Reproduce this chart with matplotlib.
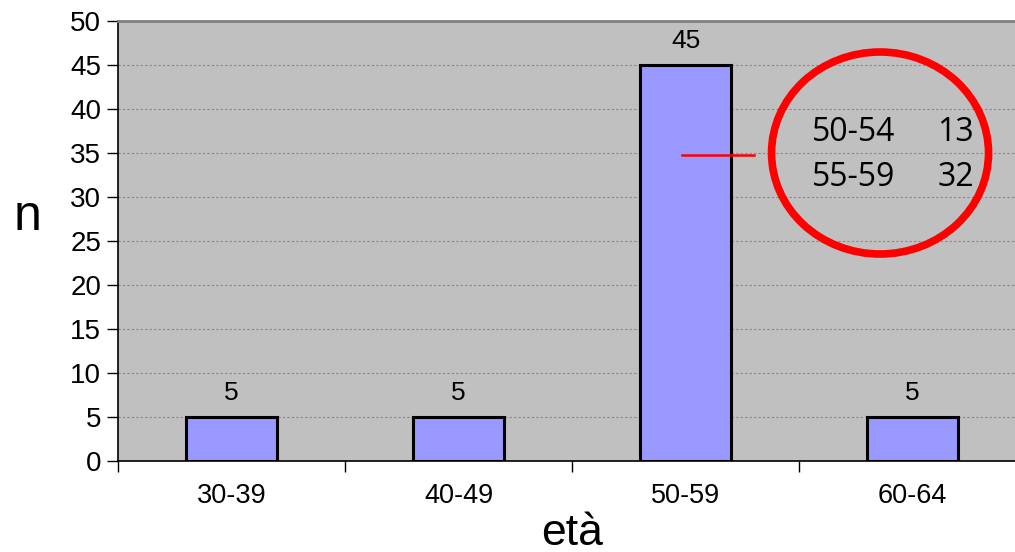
import matplotlib.pyplot as plt
from matplotlib.patches import Ellipse
import numpy as np

# dati
fasce = ["30-39", "40-49", "50-59", "60-64"]
n_pazienti = [5, 5, 45, 5]
dettaglio_label = ["50-54", "55-59"]
dettaglio_n = [13, 32]

plt.rcParams['font.family'] = ['Liberation Sans', 'DejaVu Sans']

fig = plt.figure(figsize=(10.15, 5.52), dpi=100)
ax = fig.add_axes([118 / 1015, 1 - 461 / 552, 908 / 1015, 440 / 552])
ax.set_facecolor("#c0c0c0")

x = np.arange(len(fasce))
ax.bar(x, n_pazienti, width=0.4, color="#9999ff", edgecolor="black", linewidth=2.2, zorder=3)

# etichette sopra le barre
for i, v in enumerate(n_pazienti):
    ax.text(i, v + 1.4, str(v), ha='center', va='bottom', fontsize=19)

ax.set_xlim(-0.5, len(fasce) - 0.5)
ax.set_ylim(0, 50)
ax.set_yticks(range(0, 51, 5))
ax.tick_params(axis='y', labelsize=20, length=8, width=1, direction='out', pad=4)

# tick delle categorie tra le barre
ax.set_xticks(np.arange(-0.5, len(fasce) + 0.5, 1))
ax.set_xticklabels([])
ax.set_xticks(x, minor=True)
ax.set_xticklabels(fasce, minor=True, fontsize=19.5)
ax.tick_params(axis='x', which='major', length=8, width=1, direction='out')
ax.tick_params(axis='x', which='minor', length=0, pad=16)

ax.yaxis.grid(True, color="#888888", linestyle=(0, (2, 2)), linewidth=0.8, zorder=0)
ax.set_axisbelow(True)

for s in ['left', 'bottom']:
    ax.spines[s].set_color("black")
    ax.spines[s].set_linewidth(1.2)
ax.spines['top'].set_color("#808080")
ax.spines['top'].set_linewidth(2)
ax.spines['right'].set_visible(False)

ax.set_ylabel("n", fontsize=36, rotation=0, va='center', ha='center')
ax.yaxis.set_label_coords(-0.1, 0.555)
ax.set_xlabel("età", fontsize=32)
ax.xaxis.set_label_coords(0.5, -0.118)

# linea rossa e cerchio con il dettaglio
ax.plot([1.985, 2.30], [34.8, 34.8], color="red", linewidth=1.8, zorder=4)
ell = Ellipse((2.857, 35.0), width=217 / 227, height=202 / 8.8,
              fill=False, edgecolor="red", linewidth=5.5, zorder=5)
ax.add_patch(ell)

for k, (lab, val) in enumerate(zip(dettaglio_label, dettaglio_n)):
    yy = 37.3 - k * 5.1
    ax.text(2.74, yy, lab, fontsize=23, family=['Open Sans', 'DejaVu Sans'], ha='center', va='center', zorder=6)
    ax.text(3.19, yy, str(val), fontsize=23, family=['Open Sans', 'DejaVu Sans'], ha='center', va='center', zorder=6)

plt.savefig("out.png", dpi=100)
